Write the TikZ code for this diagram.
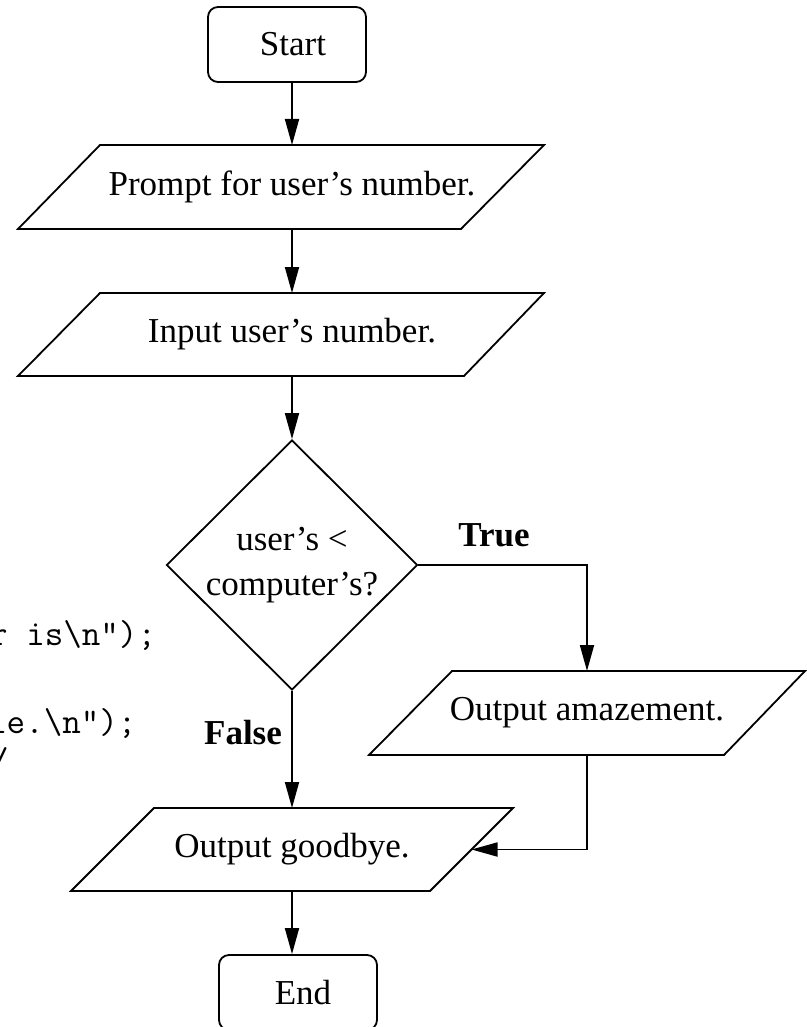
\documentclass[tikz,border=0pt]{standalone}
\usepackage{fontspec}
\setmainfont{Liberation Serif}
\usetikzlibrary{arrows.meta,shapes.geometric,calc}
\begin{document}
\begin{tikzpicture}[x=1pt,y=-1pt,
  every node/.style={font=\fontsize{35}{45}\selectfont, inner sep=0pt},
  ln/.style={line width=1.8pt, black},
  arr/.style={ln, -{Triangle[length=26pt,width=14pt]}},
  term/.style={draw, ln, rounded corners=10pt, minimum width=158pt, minimum height=75pt},
  io/.style={outer sep=0pt, minimum height=#1},
  decision/.style={draw, ln, diamond, minimum width=251pt, minimum height=250pt, align=center},
  lbl/.style={font=\fontsize{35}{45}\selectfont\bfseries},
  code/.style={font=\ttfamily\fontsize{36}{40}\selectfont, anchor=base west}
]
\useasboundingbox (0,0) rectangle (806,1027);

% nodes
\node[term] (start) at (287,44.5) {\hspace*{12pt}Start};
\node[io=84pt, minimum width=526pt] (prompt) at (281,187) {\hspace*{22pt}Prompt for user’s number.};
\node[io=83pt, minimum width=526pt] (input) at (281,334.5) {\hspace*{22pt}Input user’s number.};
\node[decision] (dec) at (292,565) {user’s <\\computer’s?};
\node[io=84pt, minimum width=436pt] (amaz) at (587,713) {Output amazement.};
\node[io=83pt, minimum width=442pt] (good) at (292,849.5) {Output goodbye.};
\node[term] (end) at (298,992.5) {\hspace*{10pt}End};

% parallelogram outlines
\draw[ln] (prompt.south west) -- ([xshift=82pt]prompt.north west) -- (prompt.north east) -- ([xshift=-83pt]prompt.south east) -- cycle;
\draw[ln] (input.south west) -- ([xshift=82pt]input.north west) -- (input.north east) -- ([xshift=-80pt]input.south east) -- cycle;
\draw[ln] (amaz.south west) -- ([xshift=83pt]amaz.north west) -- (amaz.north east) -- ([xshift=-81pt]amaz.south east) -- cycle;
\draw[ln] (good.south west) -- ([xshift=83pt]good.north west) -- (good.north east) -- ([xshift=-83pt]good.south east) -- cycle;

% labels
\node[lbl] (true) at (494,535) {True};
\node[lbl] (false) at (243,733) {False};

% code fragments at the left edge
\node[code] (c1) at (-11,645) {r is\textbackslash n");};
\node[code] (c2) at (-12,733) {le.\textbackslash n");};
\node[code] (c3) at (-10,772) {/};

% connectors
\coordinate (col) at (292,0);
\draw[arr] (start.south -| col) -- (prompt.north -| col);
\draw[arr] (prompt.south -| col) -- (input.north -| col);
\draw[arr] (input.south -| col) -- (dec.north);
\draw[arr] (dec.east) -| (amaz.north);
\draw[arr] (dec.south) -- (good.north);
\draw[arr] (amaz.south) |- ($(good.north east)!0.5!([xshift=-83pt]good.south east)$);
\draw[arr] (good.south) -- (end.north -| good.south);
\end{tikzpicture}
\end{document}
